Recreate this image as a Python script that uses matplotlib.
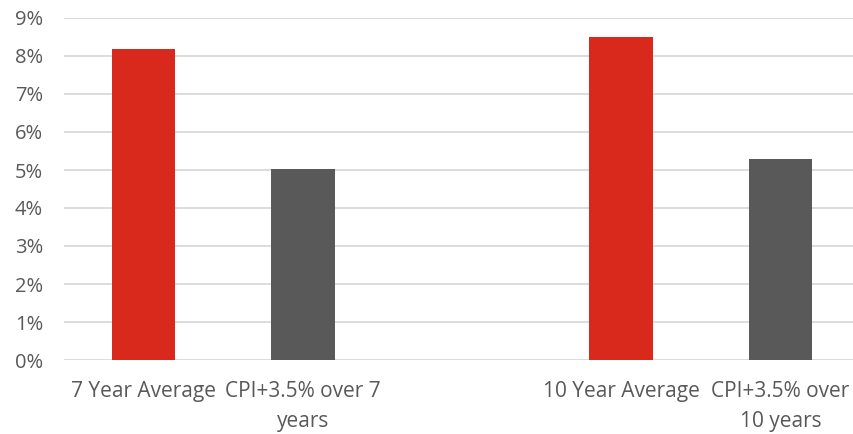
import matplotlib
matplotlib.use("Agg")
import matplotlib.pyplot as plt
from matplotlib.ticker import FuncFormatter

# Annualised returns vs. CPI+3.5% targets
categories = ["7 Year Average", "CPI+3.5% over 7\nyears", "",
              "10 Year Average", "CPI+3.5% over\n10 years"]
values = [8.18, 5.03, None, 8.5, 5.29]
colors = ["#D9291C", "#595959", None, "#D9291C", "#595959"]
yticks = list(range(0, 10))

plt.rcParams["font.family"] = ["Open Sans", "DejaVu Sans"]

fig = plt.figure(figsize=(8.54, 4.34), dpi=100)
ax = fig.add_axes([64 / 854, 74 / 434, 796 / 854, 342 / 434])

for i, (v, c) in enumerate(zip(values, colors)):
    if v is not None:
        ax.bar(i, v, width=0.4, color=c, zorder=3)

ax.set_xlim(-0.5, len(categories) - 0.5)
ax.set_ylim(0, 9)
ax.set_yticks(yticks)
ax.yaxis.set_major_formatter(FuncFormatter(lambda y, _: f"{y:.0f}%"))
ax.grid(axis="y", color="#D9D9D9", linewidth=1.3, zorder=0)
ax.set_xticks(range(len(categories)))
ax.set_xticklabels(categories, linespacing=1.6)

for s in ax.spines.values():
    s.set_visible(False)
ax.tick_params(axis="both", length=0, colors="#595959")
ax.tick_params(axis="x", pad=15, labelsize=15)
ax.tick_params(axis="y", pad=15, labelsize=14.5)

fig.savefig("out.png", dpi=100)
